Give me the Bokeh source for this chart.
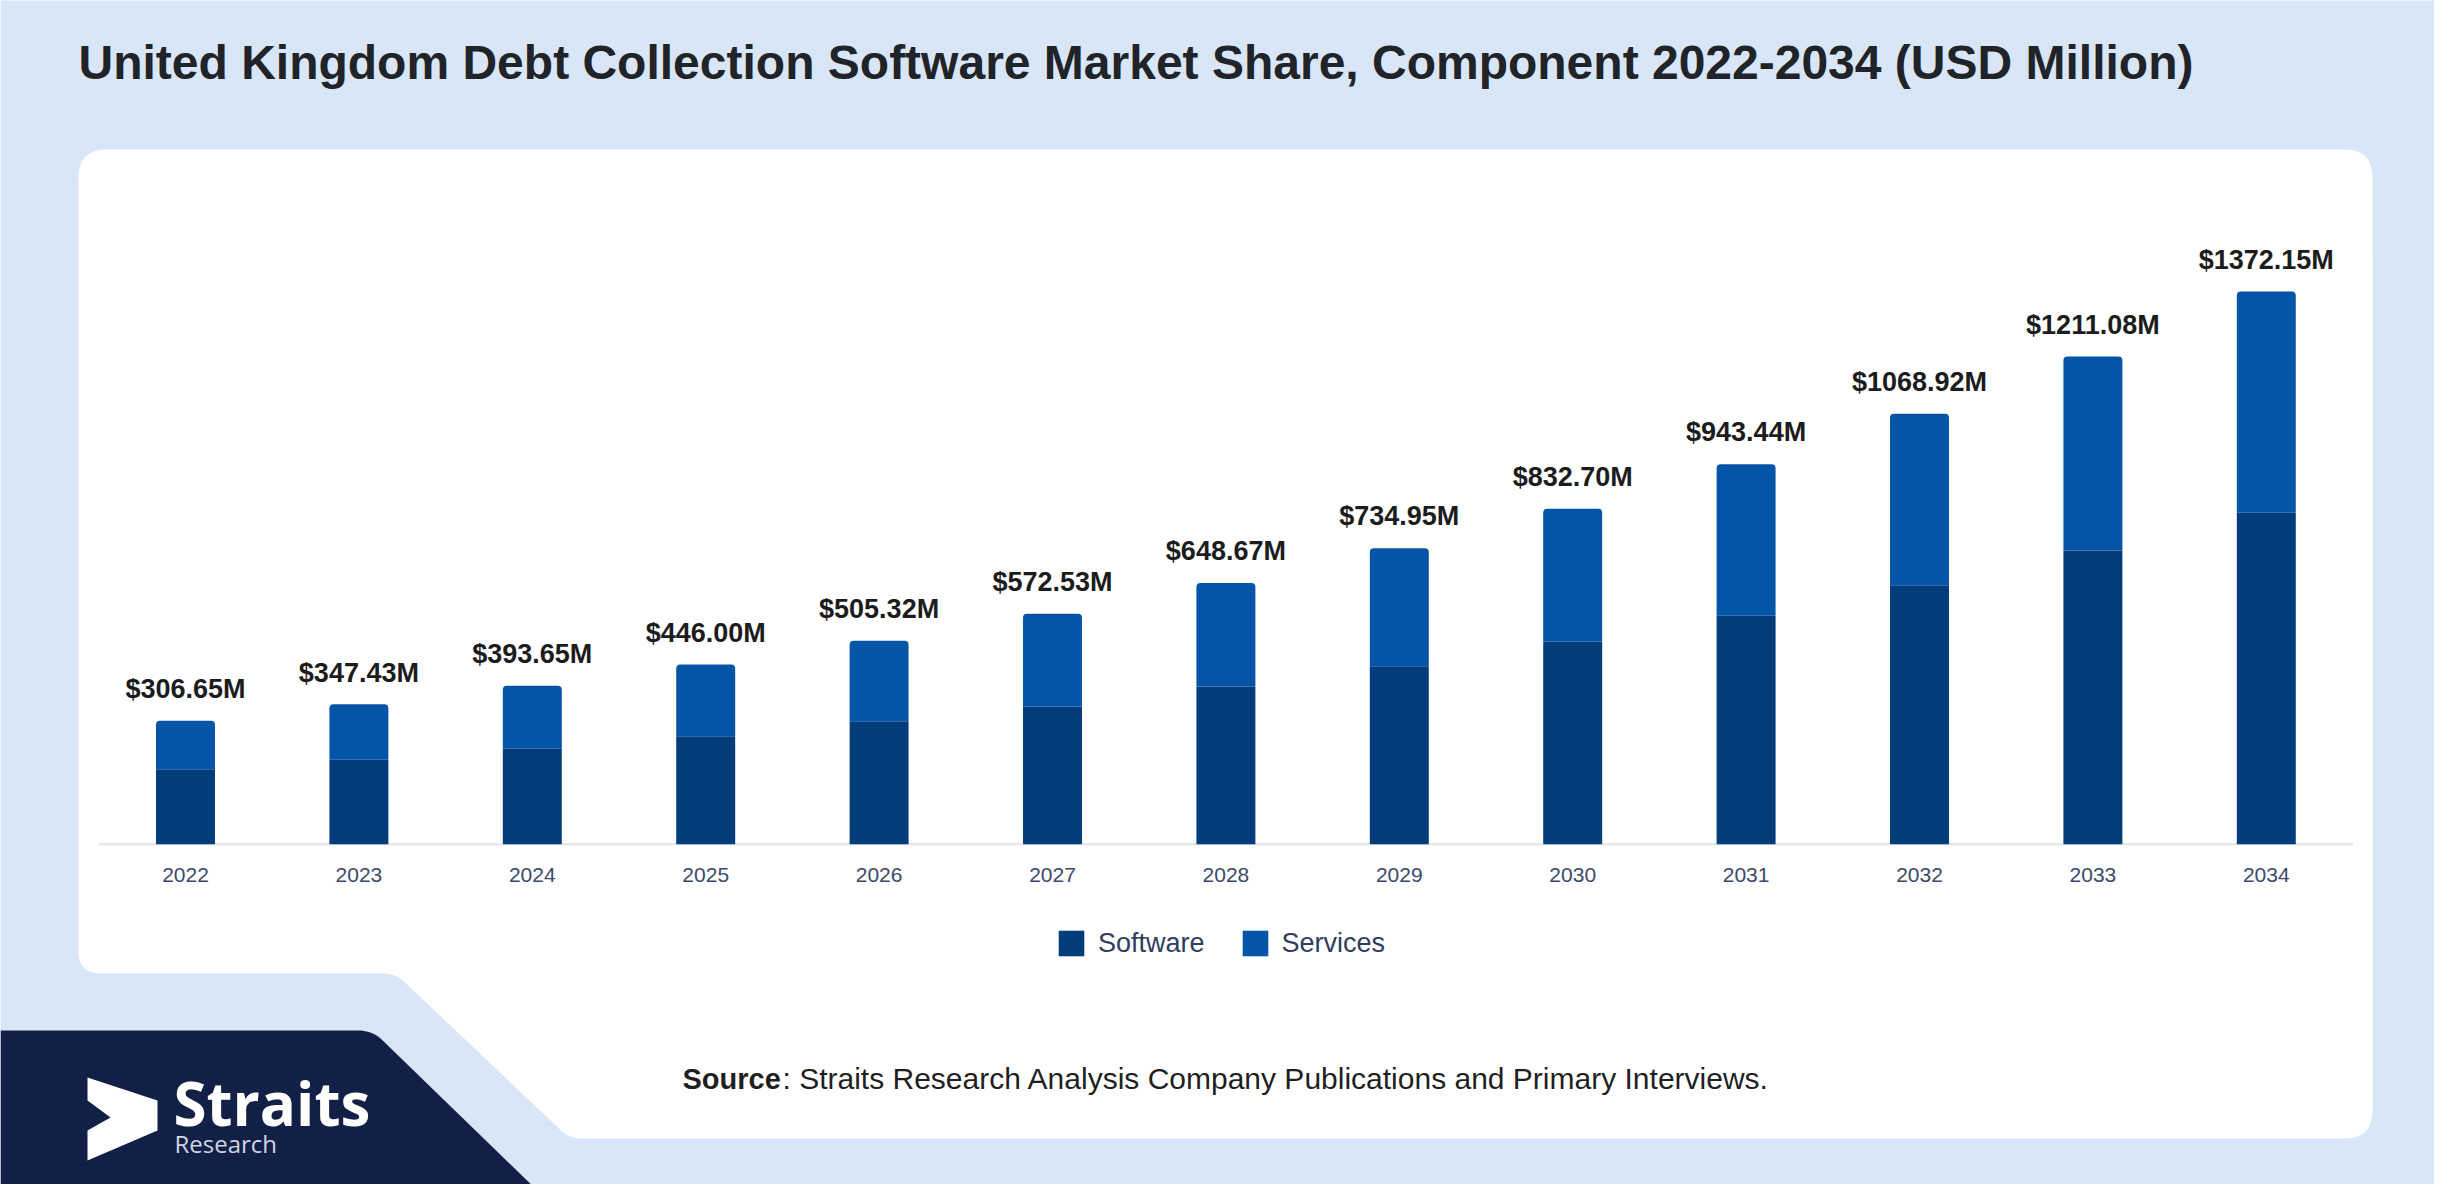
import numpy as np
from bokeh.plotting import figure
from bokeh.models import Range1d, ColumnDataSource, Legend, LegendItem
from bokeh.core.properties import value
from bokeh.embed import file_html
from bokeh.resources import INLINE

# ---------------- data ----------------
years = [2022, 2023, 2024, 2025, 2026, 2027, 2028, 2029, 2030, 2031, 2032, 2033, 2034]
year_labels = [str(y) for y in years]
software = [186.00, 209.50, 237.00, 268.00, 305.50, 342.00, 391.50, 442.00, 503.50, 567.00, 643.00, 729.00, 823.00]
services = [120.65, 137.93, 156.65, 178.00, 199.82, 230.53, 257.17, 292.95, 329.20, 376.44, 425.92, 482.08, 549.15]
total_labels = ["$306.65M", "$347.43M", "$393.65M", "$446.00M", "$505.32M", "$572.53M",
                "$648.67M", "$734.95M", "$832.70M", "$943.44M", "$1068.92M", "$1211.08M", "$1372.15M"]
series_names = ["Software", "Services"]
title_text = "United Kingdom Debt Collection Software Market Share, Component 2022-2034 (USD Million)"
source_bold = "Source"
source_rest = ": Straits Research Analysis Company Publications and Primary Interviews."

# ---------------- style ----------------
W, H = 2434, 1184
LIGHT_BG = "#d9e6f8"
NAVY = "#121f47"
SOFT_C = "#033c7a"
SERV_C = "#0455a7"
FONT = "Liberation Sans"
LIB_SHIFT = 0.325   # baseline correction (em) for Liberation Sans text
OS_SHIFT = 0.42     # baseline correction (em) for Open Sans text

# layout (pixel coordinates of the reference)
XC0, XSTEP = 185.0, 173.4      # first category centre and step
Y0, YS = 843.75, 0.4028        # baseline and px per USD million

x_start = years[0] + (0 - XC0) / XSTEP
x_end = years[0] + (W - XC0) / XSTEP
y_start = -(H - Y0) / YS
y_end = Y0 / YS

p = figure(width=W, height=H, x_range=Range1d(x_start, x_end), y_range=Range1d(y_start, y_end),
           output_backend="svg", toolbar_location=None, title=None,
           x_axis_location=None, y_axis_location=None, min_border=0,
           background_fill_color=LIGHT_BG, border_fill_color=LIGHT_BG, outline_line_color=None)
p.grid.visible = False
p.extra_x_ranges = {"px": Range1d(0, W)}
p.extra_y_ranges = {"px": Range1d(H, 0)}
PX = dict(x_range_name="px", y_range_name="px")


def rounded(points, radii, n=10):
    pts = [np.array(pt, dtype=float) for pt in points]
    xs, ys = [], []
    N = len(pts)
    for i in range(N):
        p0, p1, p2 = pts[i - 1], pts[i], pts[(i + 1) % N]
        r = radii[i]
        if r <= 0:
            xs.append(p1[0]); ys.append(p1[1]); continue
        v1 = (p0 - p1) / np.linalg.norm(p0 - p1)
        v2 = (p2 - p1) / np.linalg.norm(p2 - p1)
        th = np.arccos(np.clip(np.dot(v1, v2), -1, 1))
        d = r / np.tan(th / 2)
        t1, t2 = p1 + v1 * d, p1 + v2 * d
        for k in range(n + 1):
            s = k / n
            q = (1 - s) ** 2 * t1 + 2 * (1 - s) * s * p1 + s ** 2 * t2
            xs.append(q[0]); ys.append(q[1])
    return xs, ys


def ptext(x, y, txt, size, font=FONT, shift=LIB_SHIFT, **kw):
    p.text(x=[x], y=[y - shift * size], text=[txt], text_font=value(font),
           text_font_size=f"{size}px", text_baseline="alphabetic", text_align="left", **kw, **PX)


# white card
wx, wy = rounded([(78, 149), (2372, 149), (2372, 1138), (569, 1138), (395, 973), (78, 973)],
                 [28, 28, 28, 30, 30, 22])
p.patch(wx, wy, fill_color="white", line_color=None, **PX)

# navy corner with logo
nx, ny = rounded([(0, 1030), (372, 1030), (541, 1194), (2450, 1194), (2450, 1200), (0, 1200)],
                 [0, 35, 30, 0, 0, 0])
p.patch(nx, ny, fill_color=NAVY, line_color=None, **PX)
p.patch([87, 157, 157, 87, 87, 110, 87], [1077, 1100, 1130, 1160, 1130, 1117, 1100],
        fill_color="white", line_color=None, **PX)
ptext(173, 1128, "Straits", 60, font="Open Sans", shift=OS_SHIFT, text_font_style="bold", text_color="white")
ptext(174, 1153, "Research", 24, font="Open Sans", shift=OS_SHIFT, text_color="#cfd5e3")

# title
ptext(78, 78, title_text, 48, text_font_style="bold", text_color="#202328")

# source
ptext(682, 1088, source_bold, 29, text_font_style="bold", text_color="#1f1f1f")
ptext(782, 1088, source_rest, 30, text_color="#1f1f1f")

# ---------------- bars ----------------
tot = [a + b for a, b in zip(software, services)]
src = ColumnDataSource(dict(x=years, soft=software, serv=services, tot=tot,
                            lab=total_labels, ylab=year_labels, zero=[0] * len(years)))

p.segment(x0=[years[0] - 0.5], y0=[0], x1=[years[-1] + 0.5], y1=[0], line_color="#e1e4e9", line_width=2)

r_soft = p.vbar(x="x", width=0.34, bottom=0, top="soft", source=src, fill_color=SOFT_C, line_color=None)
r_serv = p.vbar(x="x", width=0.34, bottom="soft", top="tot", source=src, fill_color=SERV_C, line_color=None,
                border_radius=(4, 4, 0, 0))

p.text(x="x", y="tot", text="lab", source=src, y_offset=-23 - LIB_SHIFT * 27, text_font=value(FONT),
       text_font_style="bold", text_font_size="27px", text_color="#1c1c1c",
       text_align="center", text_baseline="alphabetic")
p.text(x="x", y="zero", text="ylab", source=src, y_offset=38 - LIB_SHIFT * 21, text_font=value(FONT),
       text_font_size="21px", text_color="#3b4a6b", text_align="center", text_baseline="alphabetic")

legend = Legend(items=[LegendItem(label=series_names[0], renderers=[r_soft]),
                       LegendItem(label=series_names[1], renderers=[r_serv])],
                location=(1055, 225), orientation="horizontal", padding=0, margin=0,
                spacing=34, label_standoff=11, glyph_width=32, glyph_height=32,
                label_text_font=FONT, label_text_font_size="27px", label_text_color="#2f3d5f",
                border_line_color=None, background_fill_alpha=0)
p.add_layout(legend)

open("out.html", "w").write(file_html(p, INLINE))
